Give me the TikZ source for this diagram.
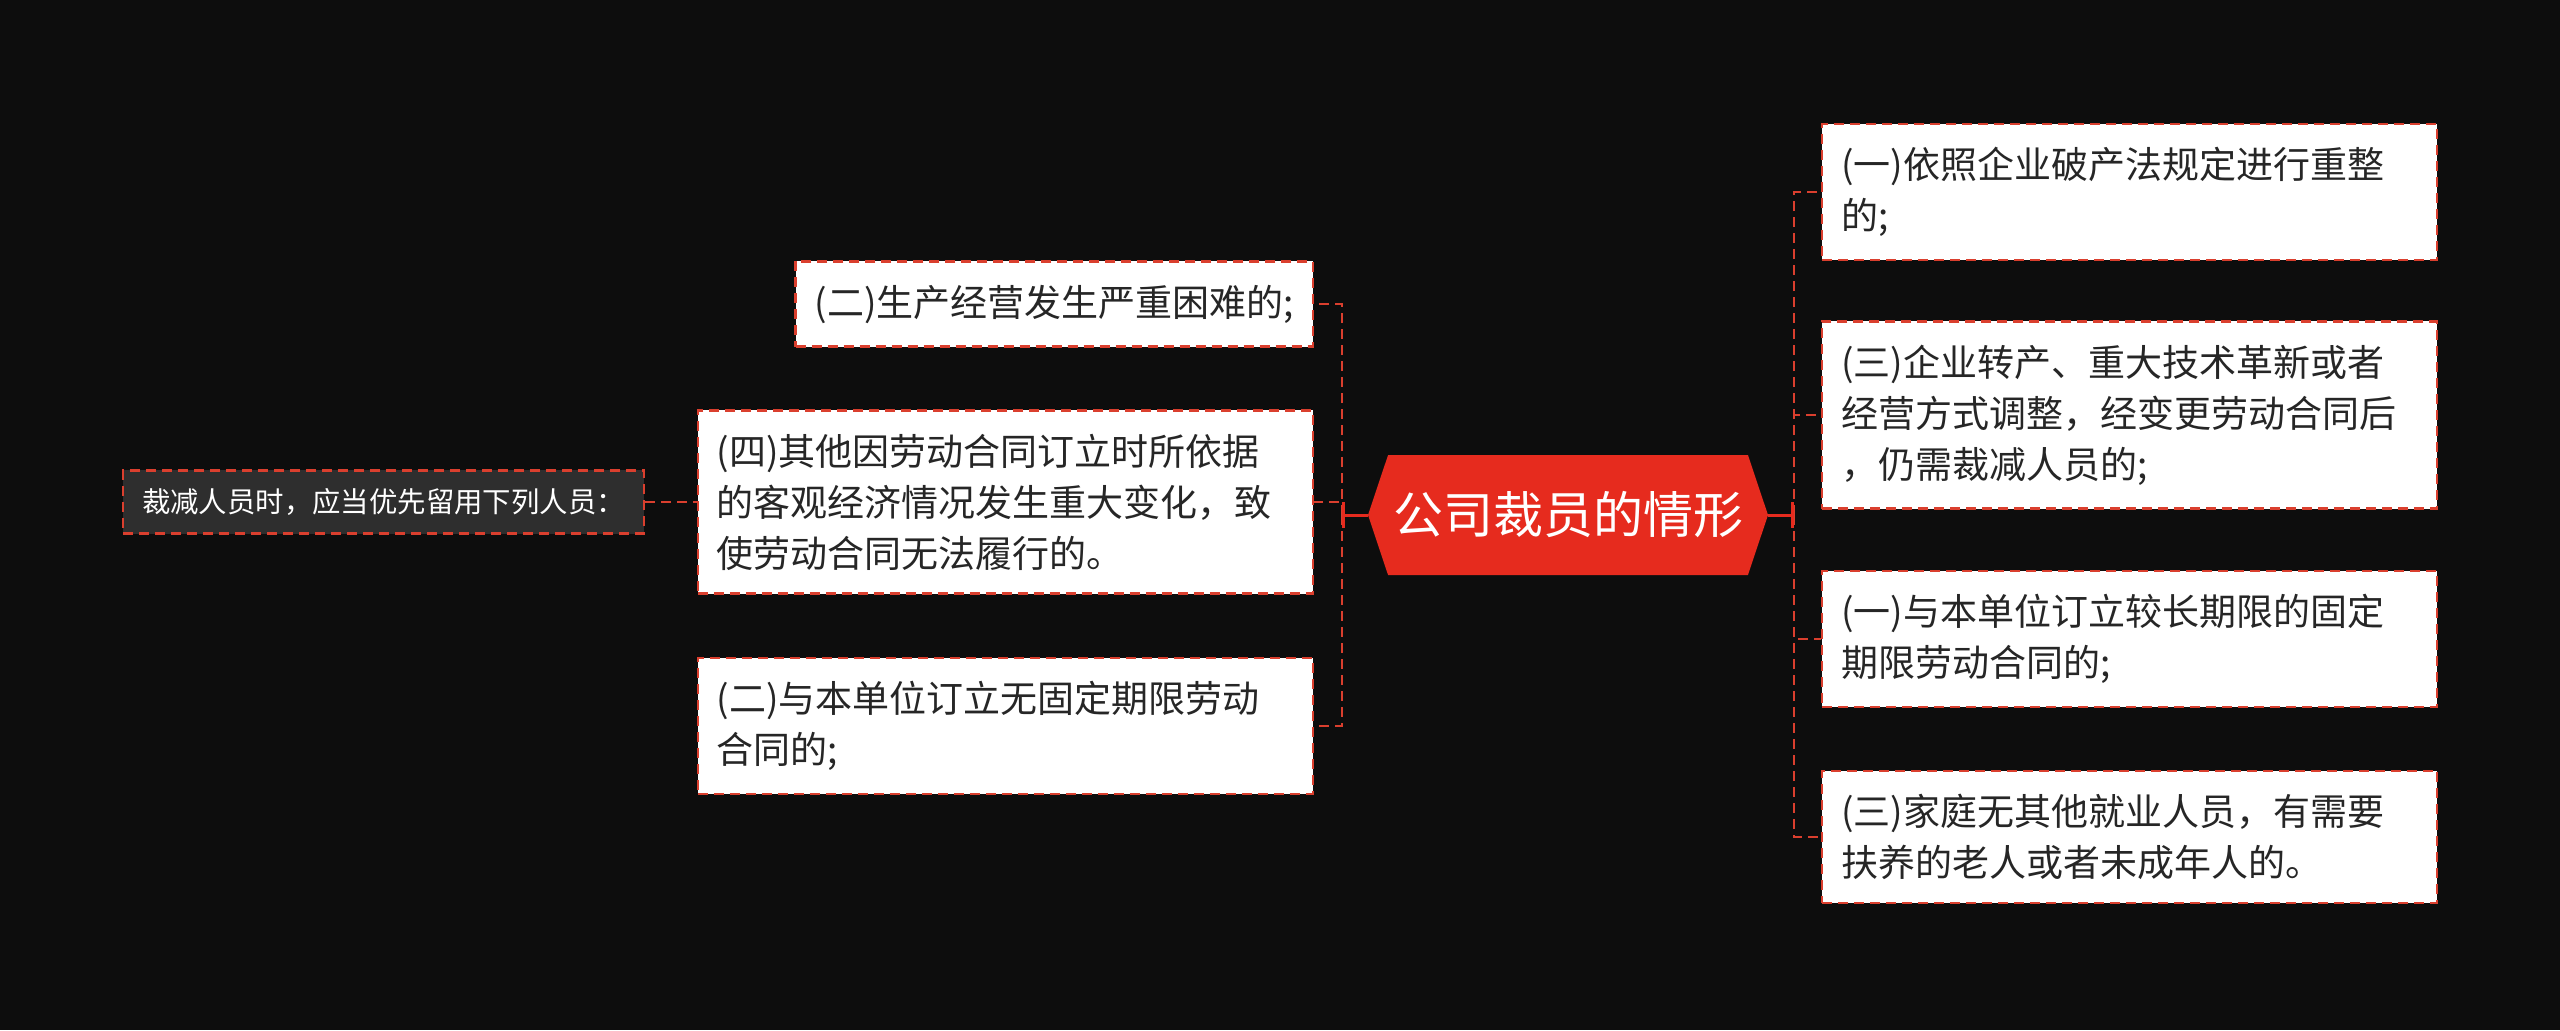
\documentclass[tikz,border=0pt]{standalone}
\usepackage{fontspec}
\setmainfont{Noto Sans CJK SC}
\usetikzlibrary{shapes.symbols,arrows.meta}
\definecolor{bgblack}{HTML}{0D0D0D}
\definecolor{titlered}{HTML}{E62B1E}
\definecolor{dashred}{HTML}{DA3F2E}
\definecolor{keepgrey}{HTML}{2E2E2E}
\definecolor{leaftext}{HTML}{262626}

\begin{document}
\begin{tikzpicture}[x=0.5pt,y=-0.5pt,
  leaf/.style={draw=dashred,line width=1.2pt,dash pattern=on 5pt off 3pt,fill=white,text=leaftext,
    align=left,inner xsep=9.5pt,inner ysep=11.7pt,font=\fontsize{18.5}{25.5}\selectfont},
  wide/.style={text width=288.5pt},
  keepbox/.style={draw=dashred,line width=1.2pt,dash pattern=on 5pt off 3pt,fill=keepgrey,text=white,
    inner xsep=9.5pt,inner ysep=9pt,font=\fontsize{14.2}{17}\selectfont},
  title/.style={shape=signal,signal to=west and east,signal pointer angle=143,fill=titlered,text=white,
    minimum width=200pt,minimum height=60pt,inner sep=0pt,font=\fontsize{25}{30}\selectfont},
  branch/.style={draw=dashred,line width=1.4pt,dash pattern=on 5pt off 3pt},
  trunk/.style={draw=titlered,line width=1.5pt,-{Bar[width=13pt,line width=1.5pt]}}]
\fill[bgblack] (0,0) rectangle (2560,1030);
\useasboundingbox (0,0) rectangle (2560,1030);

\node[title] (main) at (1568,515) {公司裁员的情形};
\coordinate (lhub) at (1342,515);
\coordinate (rhub) at (1794,515);

% left side
\node[leaf,anchor=east] (l1) at (1314,304) {(二)生产经营发生严重困难的;};
\node[leaf,wide,anchor=east] (l2) at (1314,502) {(四)其他因劳动合同订立时所依据\\的客观经济情况发生重大变化，致\\使劳动合同无法履行的。};
\node[leaf,wide,anchor=east] (l3) at (1314,726) {(二)与本单位订立无固定期限劳动\\合同的;};
\node[keepbox,anchor=east] (keep) at (645,502) {裁减人员时，应当优先留用下列人员：};

% right side
\node[leaf,wide,anchor=west] (r1) at (1821,192) {(一)依照企业破产法规定进行重整\\的;};
\node[leaf,wide,anchor=west] (r2) at (1821,415) {(三)企业转产、重大技术革新或者\\经营方式调整，经变更劳动合同后\\，仍需裁减人员的;};
\node[leaf,wide,anchor=west] (r3) at (1821,639) {(一)与本单位订立较长期限的固定\\期限劳动合同的;};
\node[leaf,wide,anchor=west] (r4) at (1821,837) {(三)家庭无其他就业人员，有需要\\扶养的老人或者未成年人的。};

\foreach \n in {l1,l2,l3}
  \draw[branch] (lhub) |- (\n.east);
\foreach \n in {r1,r2,r3,r4}
  \draw[branch] (rhub) |- (\n.west);
\draw[branch] (keep.east) -- (l2.west);
\draw[trunk] (main.west) -- (lhub);
\draw[trunk] (main.east) -- (rhub);
\end{tikzpicture}
\end{document}
